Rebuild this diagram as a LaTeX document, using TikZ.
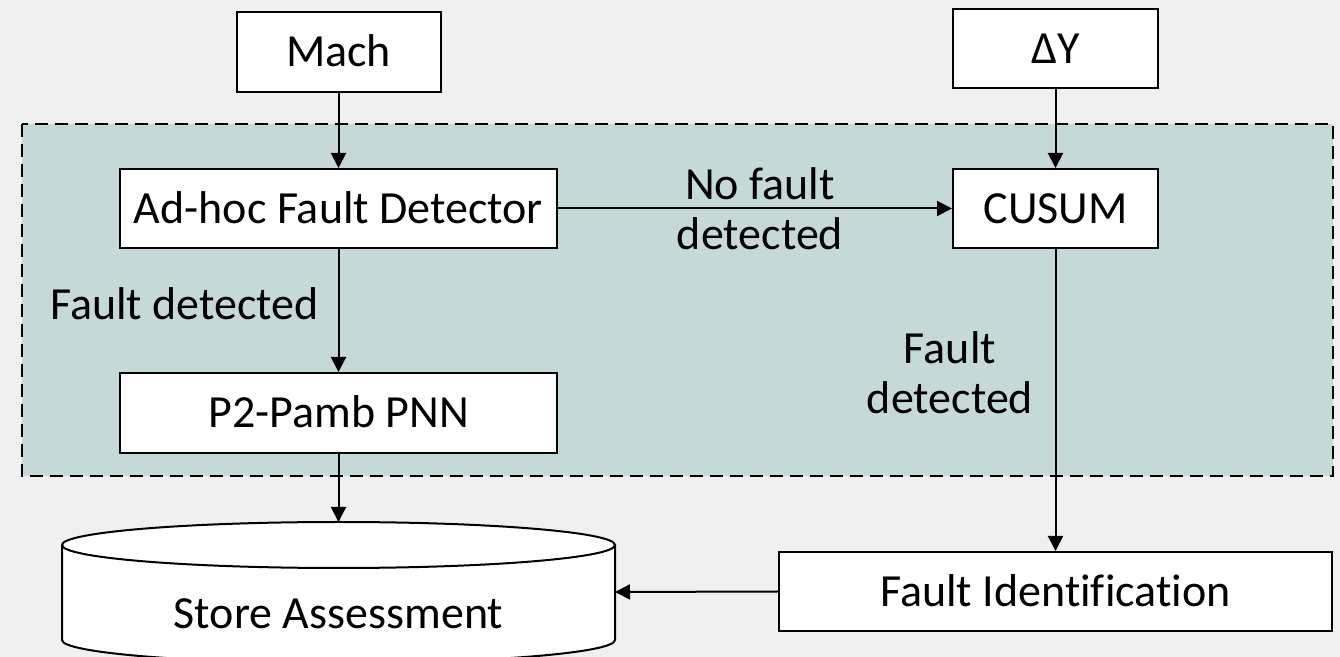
\documentclass[tikz,border=0pt]{standalone}
\usepackage{fontspec}
\setmainfont{Carlito}[Ligatures=NoCommon]
\usetikzlibrary{arrows.meta}
\definecolor{bggray}{HTML}{F0F0F0}
\definecolor{panel}{HTML}{C5D9D8}

\begin{document}
\begin{tikzpicture}[
            x=.5pt, y=-.5pt,
            box/.style={draw, fill=white, line width=1pt, inner sep=0pt,
                text height=15pt, text depth=0pt, font=\fontsize{23}{25}\selectfont},
            lbl/.style={font=\fontsize{23}{25}\selectfont, align=center},
            flow/.style={-{Triangle[length=7.5pt, width=7.5pt]}, line width=1pt},
        ]
            \fill[bggray] (0, 0) rectangle (1340, 657);
            \useasboundingbox (0, 0) rectangle (1340, 657);

            %% the dashed panel holds the detection stage
            \filldraw[fill=panel, line width=1pt, dash pattern=on 6.5pt off 3.5pt]
                (22, 124) rectangle (1333, 476);

            \node[box, minimum width=102pt, minimum height=40pt] (mach) at (338.5, 52) {Mach};
            \node[box, minimum width=102.5pt, minimum height=39.5pt] (dy) at (1055.5, 49) {ΔY};
            \node[box, minimum width=218.5pt, minimum height=39.5pt] (adhoc) at (338.5, 208.5) {Ad-hoc Fault Detector};
            \node[box, minimum width=102.5pt, minimum height=39.5pt] (cusum) at (1055.5, 208.5) {CUSUM};
            \node[box, minimum width=218.5pt, minimum height=40pt] (pnn) at (338.5, 413) {P2-Pamb PNN};
            \node[box, minimum width=276.5pt, minimum height=39.5pt] (ident) at (1055.5, 591.5) {Fault Identification};

            %% database drum, cut off by the lower edge
            \filldraw[fill=white, line width=1pt] (62, 545) -- (62, 640)
                arc[start angle=180, end angle=360, x radius=138.25pt, y radius=11.5pt]
                -- (615, 545) arc[start angle=0, end angle=180, x radius=138.25pt, y radius=11.5pt] -- cycle;
            \draw[line width=1pt] (62, 545)
                arc[start angle=180, end angle=360, x radius=138.25pt, y radius=11.5pt];
            \node[lbl, text height=15pt, text depth=0pt] (store) at (338.5, 613.5) {Store Assessment};
            \coordinate (storetop) at (338.5, 522);
            \coordinate (storeside) at (615, 592);

            \node[lbl] (nofault) at (760, 209) {No fault\\detected};
            \node[lbl] (faultl) at (184.5, 304) {Fault detected};
            \node[lbl] (faultr) at (950, 373) {Fault\\detected};

            \draw[flow] (mach) -- (adhoc);
            \draw[flow] (dy) -- (cusum);
            \draw[flow] (adhoc) -- (cusum);
            \draw[flow] (adhoc) -- (pnn);
            \draw[flow] (pnn) -- (storetop);
            \draw[flow] (cusum) -- (ident);
            \draw[flow] (ident.west) -- (storeside);
        \end{tikzpicture}
\end{document}
